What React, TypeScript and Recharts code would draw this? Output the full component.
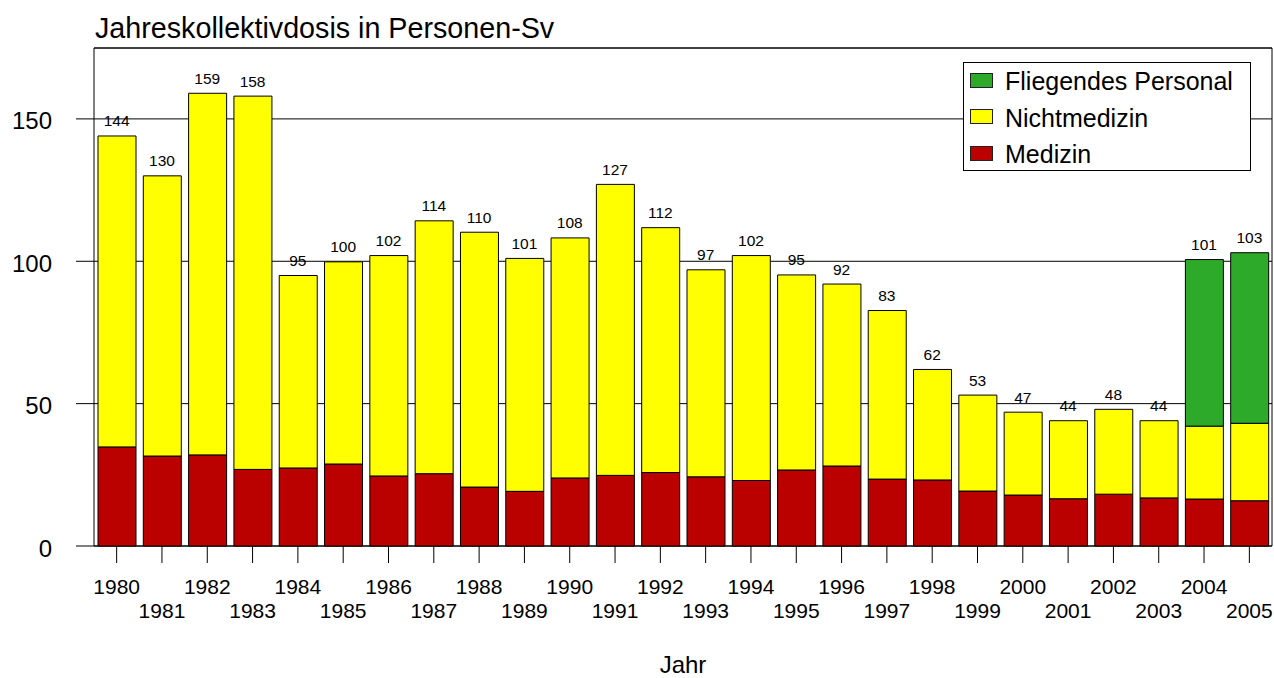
import React from "react";
import {
  ComposedChart,
  Bar,
  Line,
  XAxis,
  YAxis,
  CartesianGrid,
  ReferenceArea,
  Legend,
  LabelList,
} from "recharts";

const FONT = "'Liberation Sans', Arial, Helvetica, sans-serif";

const YEARS = [
  "1980", "1981", "1982", "1983", "1984", "1985", "1986", "1987", "1988",
  "1989", "1990", "1991", "1992", "1993", "1994", "1995", "1996", "1997",
  "1998", "1999", "2000", "2001", "2002", "2003", "2004", "2005",
];

const MEDIZIN = [
  34.8, 31.6, 32.0, 26.9, 27.4, 28.8, 24.6, 25.4, 20.7, 19.2, 23.9, 24.8, 25.8,
  24.3, 23.0, 26.7, 28.1, 23.5, 23.2, 19.3, 17.9, 16.6, 18.2, 16.9, 16.5, 15.9,
];

const NICHTMEDIZIN = [
  109.2, 98.4, 127.0, 131.1, 67.6, 71.0, 77.4, 88.8, 89.5, 81.8, 84.3, 102.2,
  86.0, 72.7, 79.0, 68.5, 63.9, 59.2, 38.8, 33.7, 29.1, 27.4, 29.8, 27.1, 25.6,
  27.2,
];

const FLIEGEND = [
  0, 0, 0, 0, 0, 0, 0, 0, 0, 0, 0, 0, 0, 0, 0, 0, 0, 0, 0, 0, 0, 0, 0, 0, 58.5,
  59.9,
];

const Y_TICKS = [0, 50, 100, 150];
const Y_MAX = 174.9;

const SERIES = [
  { key: "fliegend", name: "Fliegendes Personal", color: "#2EAA2A" },
  { key: "nichtmedizin", name: "Nichtmedizin", color: "#FFFF00" },
  { key: "medizin", name: "Medizin", color: "#BB0000" },
];

const data = YEARS.map((year, i) => ({
  year,
  medizin: MEDIZIN[i],
  nichtmedizin: NICHTMEDIZIN[i],
  fliegend: FLIEGEND[i],
  total: MEDIZIN[i] + NICHTMEDIZIN[i] + FLIEGEND[i],
}));

const YearTick = (props: any) => {
  const { x, y, payload, index } = props;
  return (
    <text
      x={x}
      y={y + (index % 2 ? 54.5 : 30.5)}
      textAnchor="middle"
      fontSize={21}
      fontFamily={FONT}
      fill="#000"
    >
      {payload.value}
    </text>
  );
};

const ValueTick = (props: any) => {
  const { x, y, payload } = props;
  return (
    <text
      x={x}
      y={y + 10.5}
      textAnchor="end"
      fontSize={24}
      fontFamily={FONT}
      fill="#000"
    >
      {payload.value}
    </text>
  );
};

const TotalLabel = (props: any) => {
  const { x, y, value } = props;
  return (
    <text
      x={x}
      y={y - 9.5}
      textAnchor="middle"
      fontSize={15.5}
      fontFamily={FONT}
      fill="#000"
    >
      {Math.round(value)}
    </text>
  );
};

const LegendBox = () => (
  <div
    style={{
      boxSizing: "border-box",
      width: 288,
      height: 109,
      border: "1px solid #000",
      background: "#fff",
      position: "relative",
      fontFamily: FONT,
      fontSize: 25,
    }}
  >
    {SERIES.map((s, i) => {
      const cy = 18 + i * 36.7;
      return (
        <React.Fragment key={s.key}>
          <div
            style={{
              position: "absolute",
              left: 6,
              top: cy - 8.5,
              width: 23,
              height: 15,
              boxSizing: "border-box",
              border: "1px solid #222",
              background: s.color,
            }}
          />
          <div
            style={{
              position: "absolute",
              left: 41,
              top: cy - 15,
              height: 30,
              lineHeight: "30px",
              whiteSpace: "nowrap",
              color: "#000",
            }}
          >
            {s.name}
          </div>
        </React.Fragment>
      );
    })}
  </div>
);

export default function App() {
  return (
    <div
      style={{
        position: "absolute",
        left: 0,
        top: 0,
        width: 1274,
        height: 678,
        background: "#fff",
        fontFamily: FONT,
      }}
    >
      <div
        style={{
          position: "absolute",
          left: 95,
          top: 14,
          fontSize: 28.7,
          lineHeight: "29px",
          color: "#000",
          whiteSpace: "nowrap",
          zIndex: 2,
        }}
      >
        Jahreskollektivdosis in Personen-Sv
      </div>
      <ComposedChart
        width={1274}
        height={678}
        data={data}
        margin={{ top: 48, right: 2, bottom: 0, left: 0 }}
      >
        <CartesianGrid horizontal vertical={false} stroke="#000" />
        <XAxis
          dataKey="year"
          height={132}
          interval={0}
          axisLine={false}
          tickLine={{ stroke: "#000" }}
          tickSize={17}
          tickMargin={0}
          tick={<YearTick />}
          label={{
            value: "Jahr",
            position: "insideBottom",
            offset: 5,
            fontSize: 24,
            fill: "#000",
            fontFamily: FONT,
          }}
        />
        <YAxis
          type="number"
          domain={[0, Y_MAX]}
          ticks={Y_TICKS}
          width={94}
          axisLine={false}
          tickLine={{ stroke: "#000" }}
          tickSize={18}
          tickMargin={24}
          tick={<ValueTick />}
        />
        <Bar
          dataKey="medizin"
          name="Medizin"
          stackId="a"
          fill="#BB0000"
          stroke="#000"
          strokeWidth={1}
          barSize={38}
          isAnimationActive={false}
        />
        <Bar
          dataKey="nichtmedizin"
          name="Nichtmedizin"
          stackId="a"
          fill="#FFFF00"
          stroke="#000"
          strokeWidth={1}
          barSize={38}
          isAnimationActive={false}
        />
        <Bar
          dataKey="fliegend"
          name="Fliegendes Personal"
          stackId="a"
          fill="#2EAA2A"
          stroke="#000"
          strokeWidth={1}
          barSize={38}
          isAnimationActive={false}
        />
        <Line
          dataKey="total"
          stroke="none"
          dot={false}
          activeDot={false}
          legendType="none"
          isAnimationActive={false}
        >
          <LabelList dataKey="total" content={<TotalLabel />} />
        </Line>
        <ReferenceArea
          y1={0}
          y2={Y_MAX}
          fill="none"
          stroke="#000"
          strokeWidth={1}
          ifOverflow="visible"
        />
        <Legend
          layout="vertical"
          align="center"
          verticalAlign="middle"
          content={<LegendBox />}
          wrapperStyle={{ top: 62, left: 963, width: 288, height: 109 }}
        />
      </ComposedChart>
    </div>
  );
}
